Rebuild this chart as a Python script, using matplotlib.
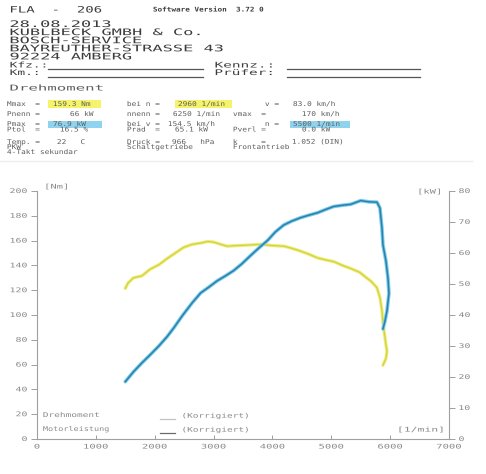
"""Dyno printout (FLA 206): torque and power over engine speed."""
import matplotlib
matplotlib.use("Agg")
import matplotlib.pyplot as plt
from matplotlib import patheffects
from matplotlib.lines import Line2D
from matplotlib.patches import Rectangle
from matplotlib.transforms import Affine2D

# torque curve (rpm, Nm)
rpm_torque = [1500, 1550, 1640, 1780, 1925, 2070, 2210, 2350, 2490, 2640, 2780, 2900,
              3000, 3120, 3230, 3400, 3630, 3800, 4000, 4200, 4350, 4480, 4620, 4770,
              4900, 5045, 5190, 5330, 5480, 5572, 5680, 5776, 5827, 5861, 5878, 5929,
              5946, 5929, 5878]
torque_nm = [121.5, 126.0, 130.0, 131.5, 137.0, 140.5, 145.5, 150.0, 154.5, 157.0, 158.0, 159.3,
             158.8, 157.0, 155.5, 156.0, 156.5, 157.0, 156.0, 155.5, 153.5, 151.5, 149.0, 146.0,
             144.5, 143.0, 140.0, 137.5, 134.5, 131.0, 127.0, 122.0, 114.0, 103.5, 93.5, 76.0,
             71.0, 65.0, 59.5]

# power curve (rpm, kW)
rpm_power = [1500, 1640, 1780, 1925, 2070, 2210, 2330, 2440, 2490, 2640, 2780, 2920,
             3060, 3200, 3340, 3480, 3630, 3780, 3920, 4050, 4190, 4330, 4480, 4620,
             4770, 4900, 5040, 5190, 5330, 5500, 5640, 5776, 5827, 5861, 5878, 5929,
             5963, 5980, 5946, 5912, 5878]
power_kw = [18.5, 21.7, 24.5, 27.2, 30.0, 33.0, 36.0, 39.0, 40.3, 44.0, 47.1, 49.0,
            51.0, 52.6, 54.3, 56.5, 59.2, 61.8, 64.1, 66.8, 69.0, 70.3, 71.4, 72.2,
            73.0, 74.0, 75.0, 75.4, 75.7, 76.9, 76.5, 76.4, 74.5, 68.0, 62.6, 57.4,
            51.9, 47.0, 41.3, 38.0, 35.5]

rpm_ticks = list(range(0, 7001, 1000))
nm_ticks = list(range(0, 201, 20))
kw_ticks = list(range(0, 81, 10))

W, H = 486, 474
DARK = "#3c3c3c"
MID = "#5e5e5e"
LIGHT = "#8a8a8a"
MONO = "DejaVu Sans Mono"


class Stretch(patheffects.AbstractPathEffect):
    """Widen glyphs sideways, the printer font is much wider than tall."""

    def __init__(self, sx, anchor=0.0):
        super().__init__()
        self.sx = sx
        self.anchor = anchor

    def draw_path(self, renderer, gc, tpath, affine, rgbFace=None):
        ext = tpath.get_extents()
        x0 = ext.x0 + self.anchor * ext.width
        pre = Affine2D().translate(-x0, 0).scale(self.sx, 1).translate(x0, 0)
        renderer.draw_path(gc, tpath, pre + affine, rgbFace)


fig = plt.figure(figsize=(W / 100, H / 100), dpi=100)
fig.patch.set_facecolor("white")


def put(x, y, s, size, sx, color=MID, weight="normal"):
    # x, y in pixels of the printout, y measured from the top
    fig.text(x / W, 1 - y / H, s, fontsize=size, family=MONO, color=color,
             weight=weight, ha="left", va="center",
             path_effects=[Stretch(sx)])


def hline(x0, x1, y, color, lw=0.8):
    fig.add_artist(Line2D([x0 / W, x1 / W], [1 - y / H, 1 - y / H],
                          transform=fig.transFigure, color=color, lw=lw))


def mark(x0, x1, y0, y1, color):
    fig.add_artist(Rectangle((x0 / W, 1 - y1 / H), (x1 - x0) / W, (y1 - y0) / H,
                             transform=fig.transFigure, color=color, lw=0, zorder=0))


# header
put(10, 10, "FLA  -  206", 6.3, 1.6, DARK)
put(153, 10, "Software Version  3.72 0", 4.6, 1.2, DARK, "bold")
address = ["28.08.2013", "KUBLBECK GMBH & Co.", "BOSCH-SERVICE",
           "BAYREUTHER-STRASSE 43", "92224 AMBERG"]
for i, line in enumerate(address):
    put(10, 24.5 + 8.1 * i, line, 6.5, 1.88, DARK)
put(10, 65, "Kfz.:", 5.6, 1.65, DARK)
put(10, 72.5, "Km.:", 5.6, 1.65, DARK)
put(215, 65, "Kennz.:", 5.6, 1.85, DARK)
put(215, 72.5, "Prüfer:", 5.6, 1.85, DARK)
for yy in (68.5, 76.5):
    hline(48, 203, yy, "#555555", 0.9)
    hline(287, 420, yy, "#555555", 0.9)
put(10, 88, "Drehmoment", 5.8, 1.95, MID)

# result table
mark(48, 101, 100.5, 107.5, "#f4f36a")
mark(175, 232, 100.5, 107.5, "#f4f36a")
mark(48, 102, 121, 127.5, "#8fd3ef")
mark(290, 350, 121, 127.5, "#8fd3ef")
rows = [
    (104, [(7, "Mmax  ="), (53, "159.3 Nm"), (127, "bei n ="), (178, "2960 1/min"),
           (265, "v ="), (293, "83.0 km/h")]),
    (114, [(7, "Pnenn ="), (70, "66 kW"), (127, "nnenn ="), (173, "6250 1/min"),
           (233, "vmax  ="), (302, "170 km/h")]),
    (124, [(7, "Pmax  ="), (53, "76.9 kW"), (127, "bei v ="), (168, "154.5 km/h"),
           (265, "n ="), (293, "5500 1/min")]),
    (129.5, [(7, "Ptol  ="), (60, "16.5 %"), (127, "Prad  ="), (175, "65.1 kW"),
             (233, "Pverl ="), (302, "0.0 kW")]),
    (142, [(7, "Temp. ="), (57, "22   C"), (127, "Druck ="), (172, "966   hPa"),
           (233, "k     ="), (292, "1.052 (DIN)")]),
    (147, [(7, "PKW"), (127, "Schaltgetriebe"), (233, "Frontantrieb")]),
    (152, [(7, "4-Takt sekundar")]),
]
for yy, cells in rows:
    for xx, s in cells:
        put(xx, yy, s, 4.7, 1.2, MID)
hline(0, 472, 161, "#ededed", 1.0)

# chart
ax = fig.add_axes([37 / W, (H - 439) / H, (449 - 37) / W, (439 - 191) / H])
ax2 = ax.twinx()
ax.set_xlim(0, 7000)
ax.set_ylim(0, 200)
ax2.set_ylim(0, 80)

ax.plot(rpm_torque, torque_nm, color="#eeee78", lw=2.4, solid_capstyle="round")
ax.plot(rpm_torque, torque_nm, color="#d4d046", lw=0.9)
ax2.plot(rpm_power, power_kw, color="#74cdee", lw=2.6, solid_capstyle="round")
ax2.plot(rpm_power, power_kw, color="#2f7ea6", lw=1.1)

for a in (ax, ax2):
    a.set_facecolor("none")
    for sp in a.spines.values():
        sp.set_color("#a0a0a0")
        sp.set_linewidth(0.8)
    a.spines["top"].set_visible(False)
ax.spines["right"].set_visible(False)
ax2.spines["left"].set_visible(False)
ax2.spines["bottom"].set_visible(False)

ax.set_xticks(rpm_ticks)
ax.set_xticklabels([str(t) for t in rpm_ticks])
ax.set_yticks(nm_ticks)
ax.set_yticklabels([str(t) for t in nm_ticks])
ax2.set_yticks(kw_ticks)
ax2.set_yticklabels([str(t) for t in kw_ticks])
ax.tick_params(axis="x", direction="in", length=3, width=0.7, color="#a0a0a0",
               labelsize=4.6, labelcolor=LIGHT, pad=4)
ax.tick_params(axis="y", direction="out", length=4, width=0.7, color="#a0a0a0",
               labelsize=4.6, labelcolor=LIGHT, pad=3)
ax2.tick_params(axis="y", direction="out", length=4, width=0.7, color="#a0a0a0",
                labelsize=4.6, labelcolor=LIGHT, pad=3)
for lab in ax.get_xticklabels():
    lab.set_family(MONO)
    lab.set_path_effects([Stretch(1.65, 0.5)])
for lab in ax.get_yticklabels():
    lab.set_family(MONO)
    lab.set_path_effects([Stretch(1.55, 1.0)])
for lab in ax2.get_yticklabels():
    lab.set_family(MONO)
    lab.set_path_effects([Stretch(1.55, 0.0)])

# units and legend, placed like on the print
put(45, 187, "[Nm]", 4.7, 1.6, LIGHT)
put(418, 192, "[kW]", 4.7, 1.6, LIGHT)
put(398, 430, "[1/min]", 4.7, 1.75, LIGHT)
put(43, 415, "Drehmoment", 4.7, 1.45, LIGHT)
put(43, 429, "Motorleistung", 4.7, 1.3, LIGHT)
put(182, 416, "(Korrigiert)", 4.7, 1.45, LIGHT)
put(182, 430, "(Korrigiert)", 4.7, 1.45, LIGHT)
hline(160, 175, 419, "#c4c4c4", 0.9)
hline(160, 175, 433, "#6a6a6a", 0.9)

fig.savefig("out.png", dpi=100, facecolor="white")
